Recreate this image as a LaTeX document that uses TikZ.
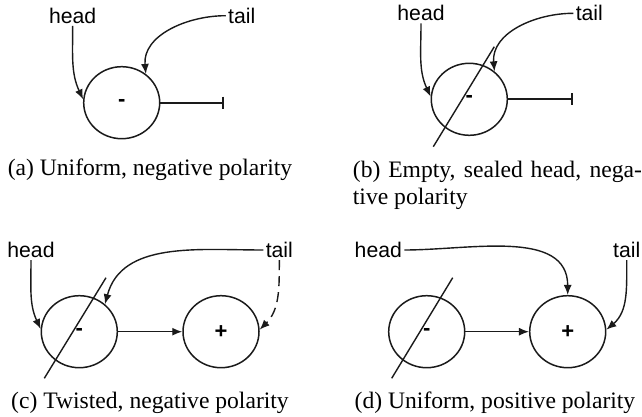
\documentclass[tikz,border=0pt]{standalone}
\usepackage{fontspec}
\setmainfont{Liberation Serif}
\setsansfont{Liberation Sans}
\usetikzlibrary{arrows.meta,positioning,shapes.geometric}
\definecolor{strandgray}{HTML}{1A1A1A}
\tikzset{
  strand/.style={ellipse, draw=strandgray, line width=0.75pt, inner sep=0pt, minimum width=38pt, minimum height=36pt, font=\sffamily\bfseries\fontsize{11}{11}\selectfont},
  endlabel/.style={inner sep=1pt, font=\sffamily\fontsize{10.6}{12}\selectfont},
  caption/.style={inner sep=0pt, font=\fontsize{11.8}{13.5}\selectfont},
  arrow/.style={-{Latex[length=5pt,width=4pt]}, line width=0.7pt, draw=strandgray},
  sealed/.style={-{Bar[width=6pt,line width=1pt]}, line width=1pt, draw=strandgray},
  cut/.style={line width=0.7pt, draw=strandgray}
}

\begin{document}
\begin{tikzpicture}[x=0.5pt, y=-0.5pt]
  \useasboundingbox (0,0) rectangle (642,417);

  % (a)
  \node[strand] (ma) at (121.7,102.7) {-};
  \node[endlabel] (heada) at (72.7,15.7) {head};
  \node[endlabel] (taila) at (241.7,15.7) {tail};
  \coordinate (capa) at (224,102.7);
  \draw[sealed] (ma) -- (capa);
  \draw[arrow] (heada.south) to[out=-90, in=115] (ma.175);
  \draw[arrow] (taila.west) to[out=180, in=95] (ma.50);
  \node[caption] (cpa) at (150,170) {(a) Uniform, negative polarity};

  % (b)
  \node[strand] (mb) at (469.3,99.3) {-};
  \coordinate (cutb1) at (433.3,146.7);
  \coordinate (cutb2) at (494.3,46.7);
  \draw[cut] (cutb1) -- (cutb2);
  \node[endlabel] (headb) at (421,13.3) {head};
  \node[endlabel] (tailb) at (589.3,13.3) {tail};
  \coordinate (capb) at (573.3,99.3);
  \draw[sealed] (mb) -- (capb);
  \draw[arrow] (headb.south) to[out=-90, in=115] (mb.176);
  \draw[arrow] (tailb.west) to[out=180, in=95] (mb.48);
  \node[caption, anchor=north west, align=left] (cpb) at (352.5,161)
    {\makebox[144.5pt][s]{(b) Empty, sealed head, nega-}\\tive polarity};

  % (c)
  \node[strand] (mc) at (79.3,331.7) {-};
  \node[strand] (pc) at (221,331.7) {+};
  \coordinate (cutc1) at (44.3,378.3);
  \coordinate (cutc2) at (106,277.7);
  \draw[cut] (cutc1) -- (cutc2);
  \node[endlabel] (headc) at (31,250) {head};
  \node[endlabel] (tailc) at (279.3,250) {tail};
  \draw[arrow] (mc) -- (pc);
  \draw[arrow] (headc.south) to[out=-90, in=115] (mc.176);
  \draw[arrow] (tailc.west) to[out=180, in=75] (mc.47);
  \draw[arrow, dashed, dash pattern=on 5pt off 3pt] (tailc.south) to[out=-90, in=45] (pc.3);
  \node[caption] (cpc) at (150,402.7) {(c) Twisted, negative polarity};

  % (d)
  \node[strand] (md) at (426.7,331.7) {-};
  \node[strand] (pd) at (567.7,331.7) {+};
  \coordinate (cutd1) at (391.7,378.3);
  \coordinate (cutd2) at (452.7,277.7);
  \draw[cut] (cutd1) -- (cutd2);
  \node[endlabel] (headd) at (378.3,250) {head};
  \node[endlabel] (taild) at (626.7,250) {tail};
  \draw[arrow] (md) -- (pd);
  \draw[arrow] (headd.east) to[out=0, in=90] (pd.north);
  \draw[arrow] (taild.south) to[out=-90, in=40] (pd.3);
  \node[caption] (cpd) at (495,402.7) {(d) Uniform, positive polarity};
\end{tikzpicture}
\end{document}
